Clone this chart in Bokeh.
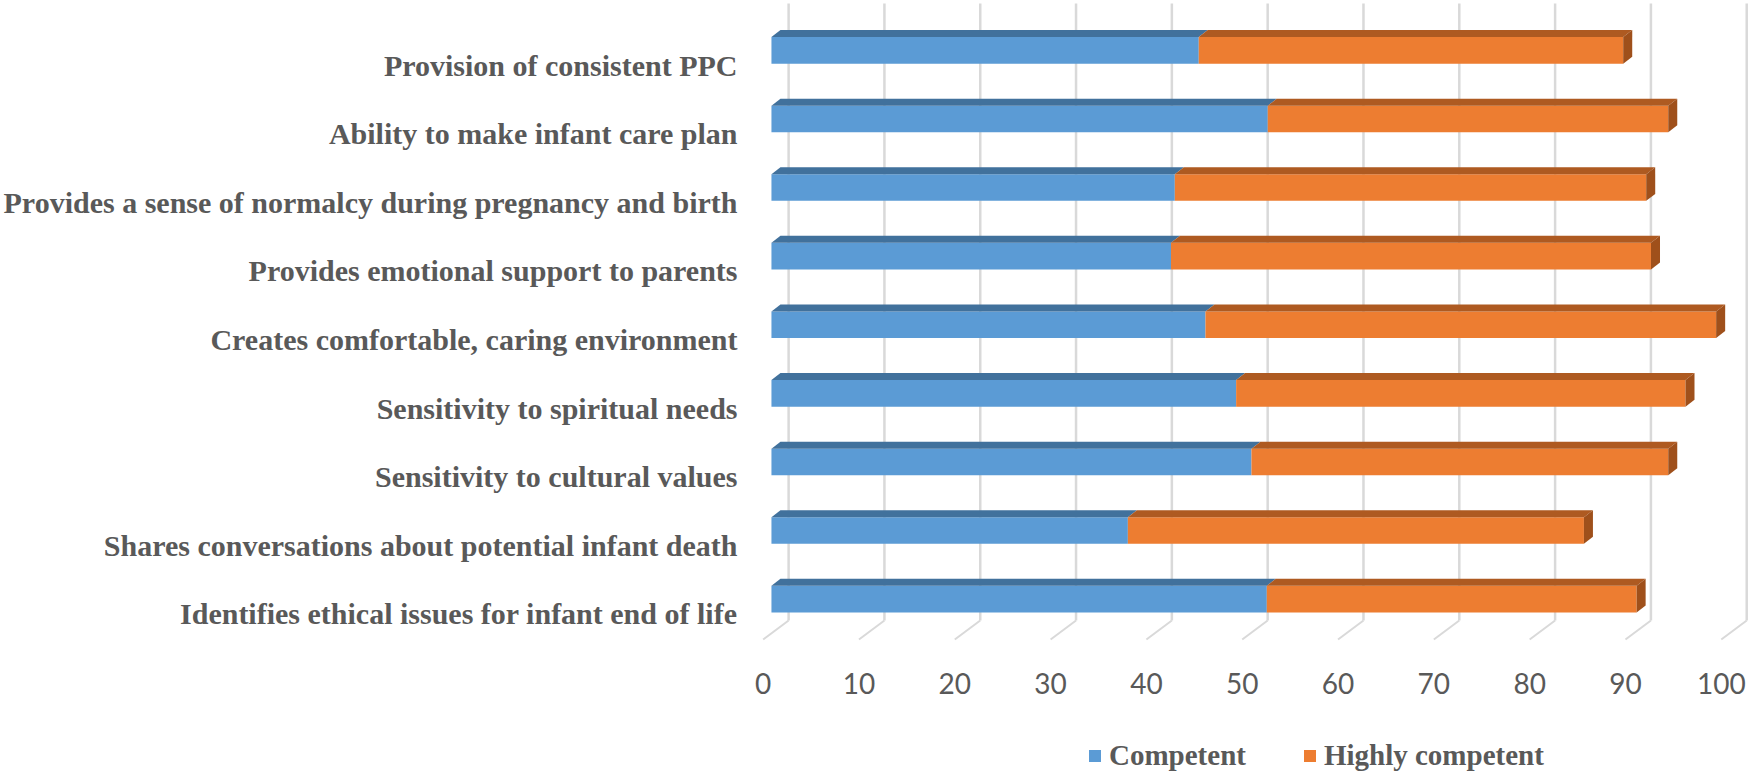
from bokeh.plotting import figure
from bokeh.models import Range1d, FixedTicker, Legend, LegendItem, ColumnDataSource
from bokeh.embed import file_html
from bokeh.resources import INLINE
from bokeh.core.properties import value

# ---------------- data (top to bottom, as in the chart) ----------------
categories = [
    "Provision of consistent PPC",
    "Ability to make infant care plan",
    "Provides a sense of normalcy during pregnancy and birth",
    "Provides emotional support to parents",
    "Creates comfortable, caring environment",
    "Sensitivity to spiritual needs",
    "Sensitivity to cultural values",
    "Shares conversations about potential infant death",
    "Identifies ethical issues for infant end of life",
]
competent = [44.6, 51.8, 42.1, 41.7, 45.3, 48.5, 50.1, 37.2, 51.7]
highly_competent = [44.3, 41.8, 49.2, 50.1, 53.3, 46.9, 43.5, 47.6, 38.6]
x_ticks = [0, 10, 20, 30, 40, 50, 60, 70, 80, 90, 100]
x_tick_labels = ["0", "10", "20", "30", "40", "50", "60", "70", "80", "90", "100"]
series_names = ["Competent", "Highly competent"]

# ---------------- 3D geometry (data units) ----------------
BAR_SHIFT = 0.865     # bar front face offset from floor-front position
DEPTH_DX = 0.94       # bar depth, horizontal
DEPTH_DY = 0.102      # bar depth, vertical
BAR_LO, BAR_HI = 0.022, 0.41
WALL_DX = 2.656       # back wall offset
FLOOR_Y = -0.372
WALL_Y = -0.095
GRID_TOP_Y = 8.9
TOP_Y = 8.943
BOTTOM_Y = -2.311
TICK_LABEL_Y = -1.013

BLUE, BLUE_TOP = "#5B9BD5", "#41719C"
ORANGE, ORANGE_TOP, ORANGE_END = "#ED7D31", "#AE5A21", "#9F501B"
GRID = "#D9D9D9"
TEXT = "#595959"

n = len(categories)
ypos = [n - 1 - j for j in range(n)]

p = figure(width=1750, height=772, output_backend="svg", toolbar_location=None,
           x_range=Range1d(-1.635, 103.05), y_range=Range1d(BOTTOM_Y, TOP_Y),
           min_border=0, min_border_left=745)
p.outline_line_color = None
p.xgrid.visible = False
p.ygrid.visible = False
p.xaxis.visible = False

# back wall gridlines and floor diagonals
p.segment(x0=[t + WALL_DX for t in x_ticks], y0=[WALL_Y] * len(x_ticks),
          x1=[t + WALL_DX for t in x_ticks], y1=[GRID_TOP_Y] * len(x_ticks),
          line_color=GRID, line_width=2.5)
p.segment(x0=x_ticks, y0=[FLOOR_Y] * len(x_ticks),
          x1=[t + WALL_DX for t in x_ticks], y1=[WALL_Y] * len(x_ticks),
          line_color=GRID, line_width=2)

# value tick labels along the front edge of the floor
p.text(x=x_ticks, y=[TICK_LABEL_Y] * len(x_ticks), text=x_tick_labels,
       text_align="center", text_baseline="middle",
       text_font=value("Lato"), text_font_size="28px", text_color=TEXT)

starts = [[0.0] * n, competent]
ends = [competent, [c + h for c, h in zip(competent, highly_competent)]]
fronts = [BLUE, ORANGE]
tops = [BLUE_TOP, ORANGE_TOP]
front_renderers = []
for k in range(2):
    s, e = starts[k], ends[k]
    src = ColumnDataSource(dict(
        left=[v + BAR_SHIFT for v in s], right=[v + BAR_SHIFT for v in e],
        bottom=[y + BAR_LO for y in ypos], top=[y + BAR_HI for y in ypos]))
    r = p.quad(left="left", right="right", bottom="bottom", top="top", source=src,
               fill_color=fronts[k], line_color=None)
    front_renderers.append(r)
    txs = [[a + BAR_SHIFT, b + BAR_SHIFT, b + BAR_SHIFT + DEPTH_DX, a + BAR_SHIFT + DEPTH_DX]
           for a, b in zip(s, e)]
    tys = [[y + BAR_HI, y + BAR_HI, y + BAR_HI + DEPTH_DY, y + BAR_HI + DEPTH_DY] for y in ypos]
    p.patches(xs=txs, ys=tys, fill_color=tops[k], line_color=None)

# right end faces of the stacked bars
exs = [[b + BAR_SHIFT, b + BAR_SHIFT + DEPTH_DX, b + BAR_SHIFT + DEPTH_DX, b + BAR_SHIFT] for b in ends[1]]
eys = [[y + BAR_LO, y + BAR_LO + DEPTH_DY, y + BAR_HI + DEPTH_DY, y + BAR_HI] for y in ypos]
p.patches(xs=exs, ys=eys, fill_color=ORANGE_END, line_color=None)

# category axis
ya = p.yaxis[0]
ya.ticker = FixedTicker(ticks=list(range(n)))
ya.major_label_overrides = {ypos[j]: categories[j] for j in range(n)}
ya.axis_line_color = None
ya.major_tick_line_color = None
ya.minor_tick_line_color = None
ya.major_tick_in = 0
ya.major_tick_out = 0
ya.major_label_standoff = 10
ya.major_label_text_font = "Liberation Serif"
ya.major_label_text_font_style = "bold"
ya.major_label_text_font_size = "30px"
ya.major_label_text_color = TEXT

legend = Legend(items=[LegendItem(label=series_names[0], renderers=[front_renderers[0]]),
                       LegendItem(label=series_names[1], renderers=[front_renderers[1]])],
                orientation="horizontal", location=(340, 0),
                glyph_width=15, glyph_height=15, label_standoff=7,
                spacing=56, padding=0, margin=0,
                border_line_color=None, background_fill_alpha=0,
                label_text_font="Liberation Serif", label_text_font_style="bold",
                label_text_font_size="29px", label_text_color=TEXT)
p.add_layout(legend)

open("out.html", "w").write(file_html(p, INLINE))
